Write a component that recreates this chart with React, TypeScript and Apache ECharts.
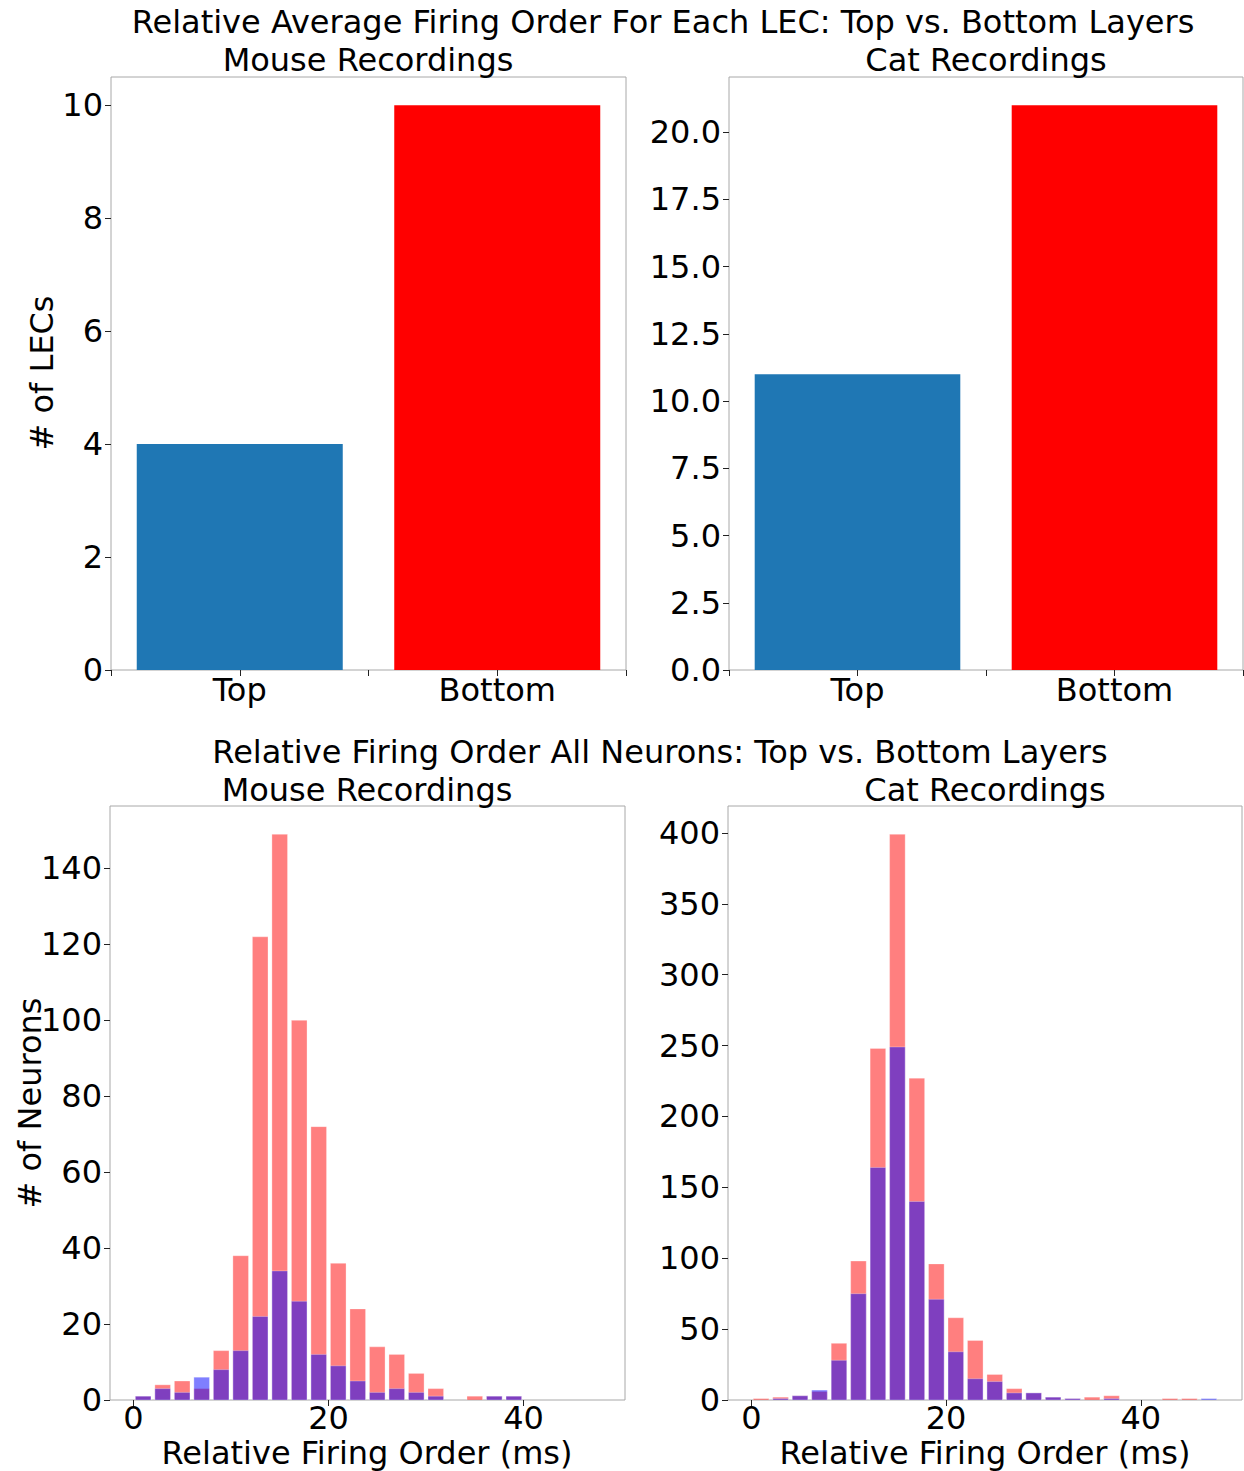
import React, { useEffect, useRef } from "react";
import * as echarts from "echarts";

// ---- Data ----
const layerCategories = ["Top", "Bottom"];
const mouseLecCounts = [4, 10];
const catLecCounts = [11, 21];
const layerColors = ["#1f77b4", "#ff0000"];

const mouseBinCenters = [1, 3, 5, 7, 9, 11, 13, 15, 17, 19, 21, 23, 25, 27, 29, 31, 33, 35, 37, 39];
const mouseBottom = [1, 4, 5, 3, 13, 38, 122, 149, 100, 72, 36, 24, 14, 12, 7, 3, 0, 1, 1, 1];
const mouseTop = [1, 3, 2, 6, 8, 13, 22, 34, 26, 12, 9, 5, 2, 3, 2, 1, 0, 0, 1, 1];

const catBinCenters = [1, 3, 5, 7, 9, 11, 13, 15, 17, 19, 21, 23, 25, 27, 29, 31, 33, 35, 37, 39, 41, 43, 45, 47];
const catBottom = [1, 2, 3, 6, 40, 98, 248, 399, 227, 96, 58, 42, 18, 8, 5, 2, 1, 2, 3, 0, 0, 1, 1, 0];
const catTop = [0, 1, 3, 7, 28, 75, 164, 249, 140, 71, 34, 15, 13, 5, 5, 2, 1, 0, 1, 0, 0, 0, 0, 1];

const mouseLecTicks = [0, 2, 4, 6, 8, 10];
const catLecTicks = [0, 2.5, 5, 7.5, 10, 12.5, 15, 17.5, 20];
const mouseHistTicks = [0, 20, 40, 60, 80, 100, 120, 140];
const catHistTicks = [0, 50, 100, 150, 200, 250, 300, 350, 400];
const histXTicks = [0, 20, 40];

const FONT = "DejaVu Sans";
const FS = 32;

export default function App() {
  const ref = useRef<HTMLDivElement>(null);

  useEffect(() => {
    if (!ref.current) return;
    const chart = echarts.init(ref.current, undefined, { renderer: "svg" });

    const labelStyle = { fontFamily: FONT, fontSize: FS, color: "#000" };
    const tickStyle = { show: true, length: 6, lineStyle: { color: "#222", width: 1 } };

    const grids = [
      { left: 111, top: 77, width: 515, height: 593 },
      { left: 729, top: 77, width: 514, height: 593 },
      { left: 110, top: 806, width: 515, height: 594 },
      { left: 728, top: 806, width: 514, height: 594 },
    ].map((g) => ({ ...g, show: true, borderColor: "#a8a8a8", borderWidth: 1, backgroundColor: "transparent" }));

    const catX = (gi: number) => ({
      type: "category",
      gridIndex: gi,
      position: "bottom",
      data: layerCategories,
      boundaryGap: true,
      axisLine: { show: false },
      axisTick: { ...tickStyle, alignWithLabel: true },
      axisLabel: { ...labelStyle, margin: 4 },
      splitLine: { show: false },
    });
    const catXBoundary = (gi: number) => ({
      type: "category",
      gridIndex: gi,
      position: "bottom",
      offset: 0,
      data: layerCategories,
      boundaryGap: true,
      axisLine: { show: false },
      axisTick: { ...tickStyle, alignWithLabel: false },
      axisLabel: { show: false },
      splitLine: { show: false },
    });
    const histX = (gi: number) => ({
      type: "value",
      gridIndex: gi,
      position: "bottom",
      min: -2.4,
      max: 50.4,
      axisLine: { show: false, onZero: false },
      axisTick: { ...tickStyle, customValues: histXTicks },
      axisLabel: { ...labelStyle, margin: 2, customValues: histXTicks },
      splitLine: { show: false },
    });
    const valY = (gi: number, max: number, ticks: number[], fmt?: (v: number) => string) => ({
      type: "value",
      gridIndex: gi,
      position: "left",
      min: 0,
      max,
      axisLine: { show: false, onZero: false },
      axisTick: { ...tickStyle, customValues: ticks },
      axisLabel: { ...labelStyle, margin: 8, customValues: ticks, formatter: fmt ? (v: number) => fmt(v) : undefined },
      splitLine: { show: false },
    });

    const histSeries = (xi: number, centers: number[], values: number[], fill: string) => ({
      type: "custom",
      xAxisIndex: xi,
      yAxisIndex: xi,
      clip: true,
      data: centers.map((c, i) => [c, values[i]]),
      renderItem: (params: any, api: any) => {
        const x = api.value(0);
        const y = api.value(1);
        if (!y) return null;
        const p0 = api.coord([x - 0.8, y]);
        const p1 = api.coord([x + 0.8, 0]);
        return {
          type: "rect",
          shape: { x: p0[0], y: p0[1], width: p1[0] - p0[0], height: p1[1] - p0[1] },
          style: { fill, stroke: "rgba(255,255,255,0.5)", lineWidth: 0.6 },
        };
      },
    });

    const text = (t: string, x: number, y: number, rotation = 0) => ({
      type: "text",
      x,
      y,
      rotation,
      style: {
        text: t,
        fontFamily: FONT,
        fontSize: FS,
        fill: "#000",
        textAlign: "center",
        textVerticalAlign: "middle",
      },
    });

    const option: any = {
      animation: false,
      backgroundColor: "#fff",
      grid: grids,
      xAxis: [catX(0), catX(1), histX(2), histX(3), catXBoundary(0), catXBoundary(1)],
      yAxis: [
        valY(0, 10.5, mouseLecTicks),
        valY(1, 22.05, catLecTicks, (v) => v.toFixed(1)),
        valY(2, 156.45, mouseHistTicks),
        valY(3, 418.95, catHistTicks),
      ],
      series: [
        {
          type: "bar",
          xAxisIndex: 0,
          yAxisIndex: 0,
          barWidth: "80%",
          data: mouseLecCounts.map((v, i) => ({ value: v, itemStyle: { color: layerColors[i] } })),
        },
        {
          type: "bar",
          xAxisIndex: 1,
          yAxisIndex: 1,
          barWidth: "80%",
          data: catLecCounts.map((v, i) => ({ value: v, itemStyle: { color: layerColors[i] } })),
        },
        histSeries(2, mouseBinCenters, mouseBottom, "rgba(255,0,0,0.5)"),
        histSeries(2, mouseBinCenters, mouseTop, "rgba(0,0,255,0.5)"),
        histSeries(3, catBinCenters, catBottom, "rgba(255,0,0,0.5)"),
        histSeries(3, catBinCenters, catTop, "rgba(0,0,255,0.5)"),
      ],
      graphic: [
        text("Relative Average Firing Order For Each LEC: Top vs. Bottom Layers", 663, 22),
        text("Mouse Recordings", 368, 60),
        text("Cat Recordings", 986, 60),
        text("Relative Firing Order All Neurons: Top vs. Bottom Layers", 660, 752),
        text("Mouse Recordings", 367, 790),
        text("Cat Recordings", 985, 790),
        text("# of LECs", 42, 373, Math.PI / 2),
        text("# of Neurons", 30, 1103, Math.PI / 2),
        text("Relative Firing Order (ms)", 367, 1453),
        text("Relative Firing Order (ms)", 985, 1453),
      ],
    };

    chart.setOption(option);
    return () => chart.dispose();
  }, []);

  return (
    <div
      ref={ref}
      style={{ position: "absolute", left: 0, top: 0, width: 1244, height: 1471, background: "#fff" }}
    />
  );
}
